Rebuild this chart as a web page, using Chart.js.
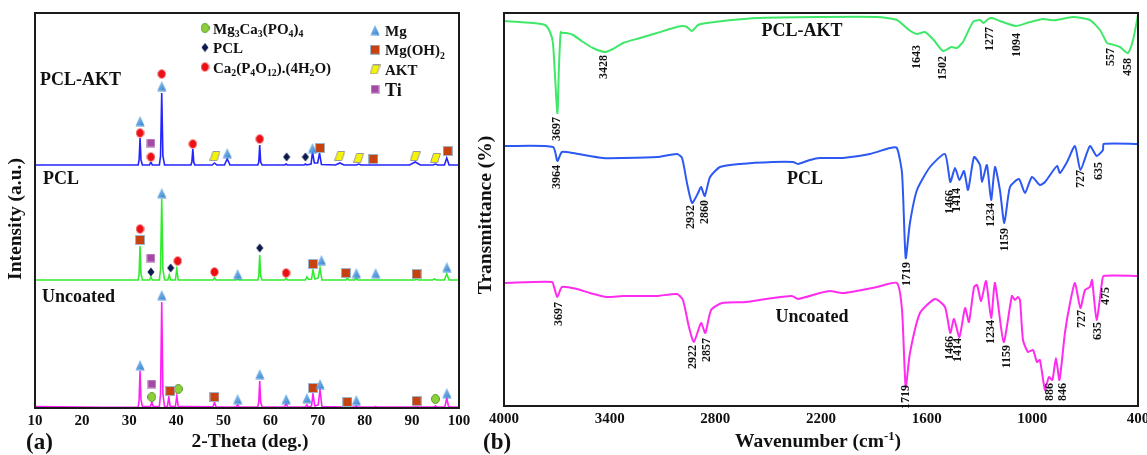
<!DOCTYPE html>
<html>
<head>
<meta charset="utf-8">
<script src="https://cdn.jsdelivr.net/npm/chart.js@4.4.1/dist/chart.umd.min.js"></script>
<style>
  body { margin: 0; background: #fff; }
  #wrapA { position: absolute; left: 0; top: 0; width: 480px; height: 455px; }
  #wrapB { position: absolute; left: 466px; top: 0; width: 681px; height: 455px; }
</style>
</head>
<body>
<div id="wrapA"><canvas id="xrd"></canvas></div>
<div id="wrapB"><canvas id="ftir"></canvas></div>
<script>
// ---------- (a) XRD : [2-theta, intensity above own baseline] ----------
const uncoatedXrd = [
  [10, 1.5], [15, 1.2], [20, 1], [25, 0.8], [30, 0.8], [31.9, 1],
  [32.1, 8], [32.3, 37], [32.5, 8], [32.8, 1.5],
  [34.5, 1.5], [34.8, 6], [35.1, 1.5],
  [36.4, 1.5], [36.65, 14], [36.9, 106], [37.15, 14], [37.5, 1.5],
  [38.1, 1.5], [38.4, 11], [38.7, 1.5],
  [39.8, 1.5], [40.1, 12], [40.4, 1.5],
  [42, 1.5], [47.8, 1.2], [48.1, 6], [48.4, 1.2],
  [52.7, 1], [53.0, 3], [53.3, 1],
  [57.3, 1], [57.5, 6], [57.7, 27], [57.9, 6], [58.2, 1],
  [63.0, 1], [63.3, 5], [63.6, 1],
  [67.4, 1], [67.7, 3], [68.0, 1], [68.7, 2], [69.0, 14], [69.4, 2], [70.1, 3], [70.5, 18], [70.9, 1.5],
  [76.0, 1], [76.3, 2], [76.6, 1], [77.9, 1], [78.2, 2], [78.5, 1],
  [82.0, 1], [82.3, 1.5], [82.6, 1], [90.7, 1], [91.0, 3], [91.3, 1],
  [94.7, 1], [95.0, 2], [95.3, 1], [97.0, 1], [97.4, 10], [97.8, 1], [100, 1]
];
const pclXrd = [
  [10, 1], [20, 1], [30, 1], [31.9, 1],
  [32.1, 7], [32.3, 35], [32.5, 7], [32.8, 1],
  [34.3, 1], [34.6, 4], [34.9, 1],
  [36.4, 1], [36.65, 12], [36.9, 82], [37.15, 12], [37.5, 1],
  [38.2, 1], [38.5, 6], [38.8, 1],
  [39.8, 1], [40.1, 12], [40.4, 1],
  [47.8, 1], [48.1, 3], [48.4, 1],
  [52.7, 1], [53.0, 2], [53.3, 1],
  [57.3, 1], [57.5, 5], [57.7, 26], [57.9, 5], [58.2, 1],
  [63.0, 1], [63.3, 3], [63.6, 1],
  [67.4, 1], [67.7, 4], [68.1, 1.5], [68.7, 2], [69.0, 11], [69.4, 2], [70.1, 3], [70.5, 13], [70.9, 1],
  [76.0, 1], [76.3, 3], [76.6, 1], [77.9, 1], [78.2, 3], [78.5, 1],
  [90.6, 1], [91.0, 2], [91.4, 1], [94.4, 1], [94.8, 2], [95.2, 1],
  [96.9, 1], [97.4, 7], [97.9, 1], [100, 1]
];
const pclAktXrd = [
  [10, 1], [20, 1], [30, 1], [31.9, 1],
  [32.1, 6], [32.3, 28], [32.5, 6], [32.8, 1],
  [34.3, 1], [34.6, 4], [34.9, 1],
  [36.4, 1], [36.65, 10], [36.9, 73], [37.15, 10], [37.5, 1],
  [43.1, 1], [43.3, 4], [43.5, 17], [43.7, 4], [43.9, 1],
  [47.6, 1], [48.1, 3], [48.6, 1],
  [50.2, 1], [50.8, 7], [51.4, 1],
  [57.3, 1], [57.5, 4], [57.7, 21], [57.9, 4], [58.2, 1],
  [63.0, 1], [63.3, 2], [63.6, 1], [67.1, 1], [67.4, 2], [67.7, 1],
  [68.6, 2], [68.9, 14], [69.3, 3], [70.0, 3], [70.4, 13], [70.8, 1.5],
  [73.8, 1], [74.7, 3], [75.6, 1], [78.2, 1], [78.7, 2], [79.2, 1],
  [89.5, 1], [90.7, 4], [91.8, 1], [94.5, 1], [95.0, 2], [95.5, 1],
  [96.9, 1], [97.4, 8], [97.9, 1], [100, 1]
];
const xrdNames = ['Uncoated', 'PCL', 'PCL-AKT'];
const xrdOffsets = [0, 127, 242];

// phase markers: [2-theta, height above baseline, trace index]
const mgMarks = [
  [32.3, 43, 0], [36.9, 113, 0], [53.0, 9, 0], [57.7, 34, 0], [63.3, 9, 0], [67.7, 10, 0], [70.5, 24, 0], [78.2, 8, 0], [97.4, 15, 0],
  [36.9, 88, 1], [53.0, 7, 1], [70.8, 21, 1], [78.2, 8, 1], [82.3, 8, 1], [97.4, 14, 1],
  [32.3, 45, 2], [36.9, 80, 2], [50.8, 13, 2], [68.9, 18, 2]
];
const mgohMarks = [
  [38.7, 17, 0], [48.1, 11, 0], [69.0, 20, 0], [76.3, 6, 0], [91.0, 7, 0],
  [32.3, 41, 1], [69.0, 17, 1], [76.0, 8, 1], [91.0, 7, 1],
  [70.5, 18, 2], [81.8, 7, 2], [97.6, 15, 2]
];
const tiMarks = [[34.8, 24, 0], [34.6, 23, 1], [34.6, 23, 2]];
const mgcapoMarks = [[34.8, 11, 0], [40.4, 19, 0], [95.0, 9, 0]];
const caMarks = [
  [32.3, 52, 1], [40.3, 20, 1], [48.1, 9, 1], [63.3, 8, 1],
  [32.3, 33, 2], [34.6, 9, 2], [36.9, 92, 2], [43.5, 22, 2], [57.7, 27, 2]
];
const pclMarks = [[34.6, 9, 1], [38.8, 13, 1], [57.7, 33, 1], [63.4, 9, 2], [67.4, 9, 2]];
const aktMarks = [[48.2, 10, 2], [74.7, 10, 2], [78.7, 8, 2], [90.7, 10, 2], [95.0, 8, 2]];

const xrdTicks = [10, 20, 30, 40, 50, 60, 70, 80, 90, 100];

// ---------- (b) FTIR : [wavenumber, transmittance a.u.] ----------
const pclAktFtir = [
  [4000, 385], [3835, 383], [3767, 381], [3739, 374], [3722, 363], [3697, 293], [3688, 339], [3678, 374],
  [3667, 373], [3644, 373], [3608, 371], [3551, 364], [3495, 358], [3428, 354], [3381, 357], [3324, 363],
  [3228, 368], [3131, 373], [3040, 378], [2989, 380], [2961, 379], [2933, 375], [2898, 381], [2847, 383],
  [2757, 385], [2563, 388], [2206, 389], [1882, 389], [1769, 386], [1700, 376], [1655, 372], [1610, 374],
  [1560, 366], [1507, 355], [1460, 359], [1428, 358], [1394, 364], [1337, 384], [1297, 386], [1277, 383],
  [1250, 387], [1229, 388], [1184, 385], [1094, 380], [1030, 383], [940, 387], [900, 386], [860, 386],
  [769, 389], [673, 386], [616, 376], [576, 363], [557, 362], [502, 359], [458, 353], [428, 366], [400, 391]
];
const pclFtir = [
  [4000, 260], [3722, 259], [3697, 245], [3671, 254], [3608, 253], [3438, 248], [3324, 248], [3131, 249],
  [3018, 252], [2989, 248], [2961, 223], [2932, 203], [2898, 213], [2881, 219], [2860, 210], [2830, 229],
  [2773, 239], [2660, 242], [2473, 244], [2359, 244], [2331, 242], [2263, 246], [2206, 248], [2075, 248],
  [1922, 252], [1808, 258], [1769, 258], [1740, 233], [1719, 148], [1695, 183], [1655, 216], [1581, 239],
  [1496, 252], [1466, 224], [1439, 238], [1414, 226], [1388, 235], [1365, 216], [1331, 249], [1297, 241],
  [1286, 224], [1258, 241], [1234, 206], [1212, 239], [1184, 216], [1159, 183], [1127, 219], [1076, 227],
  [1042, 213], [1002, 229], [957, 221], [928, 224], [860, 240], [843, 233], [803, 244], [758, 260],
  [727, 236], [673, 260], [635, 250], [599, 256], [595, 262], [400, 262]
];
const uncoatedFtir = [
  [4000, 123], [3727, 124], [3716, 119], [3697, 109], [3671, 119], [3585, 117], [3512, 113], [3415, 109],
  [3324, 110], [3131, 110], [3018, 112], [2984, 106], [2950, 79], [2922, 64], [2881, 83], [2857, 73],
  [2824, 96], [2762, 103], [2626, 104], [2473, 108], [2365, 110], [2331, 107], [2206, 113], [2149, 115],
  [2075, 113], [1882, 119], [1769, 123], [1740, 96], [1719, 19], [1695, 53], [1638, 93], [1553, 107],
  [1496, 99], [1466, 73], [1445, 87], [1414, 69], [1382, 98], [1360, 84], [1331, 119], [1314, 121],
  [1291, 105], [1263, 125], [1234, 88], [1212, 123], [1163, 64], [1116, 110], [1099, 106], [1082, 109],
  [1070, 106], [1053, 66], [1025, 54], [996, 56], [974, 44], [957, 46], [928, 16], [906, 29],
  [886, 26], [866, 48], [846, 26], [815, 73], [786, 103], [758, 123], [727, 98], [701, 116],
  [673, 119], [661, 126], [635, 86], [605, 123], [595, 130], [400, 130]
];
// peak labels: [text, wavenumber position, top of label]
const aktPeakLabels = [
  ['3697', 3699, 289], ['3428', 3432, 351], ['1643', 1655, 361], ['1502', 1507, 350],
  ['1277', 1240, 379], ['1094', 1087, 373], ['557', 553, 358], ['458', 457, 348]
];
const pclPeakLabels = [
  ['3964', 3699, 241], ['2932', 2938, 201], ['2860', 2859, 206], ['1719', 1712, 144],
  ['1466', 1468, 216], ['1414', 1428, 218], ['1234', 1235, 203], ['1159', 1155, 178],
  ['727', 724, 236], ['635', 622, 244]
];
const uncoatedPeakLabels = [
  ['3697', 3688, 104], ['2922', 2927, 61], ['2857', 2847, 68], ['1719', 1717, 21],
  ['1466', 1468, 70], ['1414', 1422, 68], ['1234', 1235, 86], ['1159', 1144, 61],
  ['886', 900, 23], ['846', 826, 23], ['727', 718, 96], ['635', 627, 84], ['475', 582, 119]
];
const ftirNames = [['PCL-AKT', 2308, 375], ['PCL', 2291, 227], ['Uncoated', 2251, 89]];
const ftirTicks = [4000, 3400, 2800, 2200, 1600, 1000, 400];

// ---------- helpers ----------
const SERIF = '"Liberation Serif", "Times New Roman", serif';
const bold = s => `bold ${s}px ${SERIF}`;

// draws text with _x / _{xx} subscripts and ^{..} superscripts
function drawRich(ctx, str, x, y, size, align) {
  const parts = [];
  let i = 0;
  while (i < str.length) {
    const c = str[i];
    if (c === '_' || c === '^') {
      let t;
      if (str[i + 1] === '{') {
        const j = str.indexOf('}', i);
        t = str.slice(i + 2, j);
        i = j + 1;
      } else {
        t = str[i + 1];
        i += 2;
      }
      parts.push({ t, k: c });
    } else {
      let j = i;
      while (j < str.length && str[j] !== '_' && str[j] !== '^') j++;
      parts.push({ t: str.slice(i, j), k: '' });
      i = j;
    }
  }
  let total = 0;
  parts.forEach(p => {
    ctx.font = bold(p.k ? size * 0.65 : size);
    p.w = ctx.measureText(p.t).width;
    total += p.w;
  });
  let cx = align === 'center' ? x - total / 2 : x;
  ctx.textAlign = 'left';
  ctx.textBaseline = 'alphabetic';
  parts.forEach(p => {
    ctx.font = bold(p.k ? size * 0.65 : size);
    const dy = p.k === '_' ? size * 0.22 : p.k === '^' ? -size * 0.38 : 0;
    ctx.fillText(p.t, cx, y + dy);
    cx += p.w;
  });
}

function marker(w, h, draw) {
  const c = document.createElement('canvas');
  c.width = w; c.height = h;
  draw(c.getContext('2d'));
  return c;
}
const markerImgs = {
  mg: marker(10, 11, g => {
    const gr = g.createLinearGradient(0, 0, 10, 11);
    gr.addColorStop(0, '#9fd0f5'); gr.addColorStop(1, '#2c7bcc');
    g.fillStyle = gr;
    g.beginPath(); g.moveTo(5, 0.5); g.lineTo(9.5, 10.5); g.lineTo(0.5, 10.5); g.closePath(); g.fill();
  }),
  mgoh: marker(10, 10, g => {
    g.fillStyle = '#c8420f'; g.fillRect(1, 1, 8, 8);
    g.strokeStyle = '#9fb4c9'; g.lineWidth = 1; g.strokeRect(0.5, 0.5, 9, 9);
  }),
  ti: marker(9, 9, g => {
    g.fillStyle = '#a44aa6'; g.fillRect(1, 1, 7, 7);
    g.strokeStyle = '#cfa6d0'; g.lineWidth = 1; g.strokeRect(0.5, 0.5, 8, 8);
  }),
  ca: marker(9, 10, g => {
    g.fillStyle = '#ec1015'; g.strokeStyle = '#f4a8a8'; g.lineWidth = 1;
    g.beginPath(); g.ellipse(4.5, 5, 4, 4.5, 0, 0, Math.PI * 2); g.fill(); g.stroke();
  }),
  mgcapo: marker(9, 10, g => {
    g.fillStyle = '#8bd03a'; g.strokeStyle = '#5d9a2e'; g.lineWidth = 1;
    g.beginPath(); g.ellipse(4.5, 5, 4, 4.5, 0, 0, Math.PI * 2); g.fill(); g.stroke();
  }),
  pcl: marker(8, 10, g => {
    g.fillStyle = '#0c1a4e';
    g.beginPath(); g.moveTo(4, 0.5); g.lineTo(7.5, 5); g.lineTo(4, 9.5); g.lineTo(0.5, 5); g.closePath(); g.fill();
  }),
  akt: marker(11, 10, g => {
    g.fillStyle = '#f6f400'; g.strokeStyle = '#9a9a9a'; g.lineWidth = 1;
    g.beginPath(); g.moveTo(3.5, 0.5); g.lineTo(10.5, 0.5); g.lineTo(7.5, 9.5); g.lineTo(0.5, 9.5); g.closePath();
    g.fill(); g.stroke();
  })
};

const legendLeft = [['Mg_3Ca_3(PO_4)_4', 'mgcapo'], ['PCL', 'pcl'], ['Ca_2(P_4O_{12}).(4H_2O)', 'ca']];
const legendRight = [['Mg', 'mg'], ['Mg(OH)_2', 'mgoh'], ['AKT', 'akt'], ['Ti', 'ti']];

const pts = (arr, off) => arr.map(([x, y]) => ({ x, y: y + off }));
const markPts = arr => arr.map(([x, h, t]) => ({ x, y: xrdOffsets[t] + h }));

// ---------- chart (a) ----------
const xrdColors = ['#ff1ff6', '#31ec2e', '#2424ff'];
const xrdSets = [uncoatedXrd, pclXrd, pclAktXrd].map((d, i) => ({
  label: xrdNames[i],
  data: pts(d, xrdOffsets[i]),
  showLine: true,
  borderColor: xrdColors[i],
  borderWidth: 1.6,
  pointRadius: 0,
  tension: 0,
  order: 1
}));
const markSets = [
  [mgMarks, 'mg'], [mgohMarks, 'mgoh'], [tiMarks, 'ti'], [mgcapoMarks, 'mgcapo'],
  [caMarks, 'ca'], [pclMarks, 'pcl'], [aktMarks, 'akt']
].map(([arr, key]) => ({
  label: key,
  data: markPts(arr),
  showLine: false,
  pointStyle: markerImgs[key],
  pointRadius: 5,
  order: 0
}));

const xrdDecor = {
  id: 'xrdDecor',
  afterDraw(chart) {
    const { ctx, chartArea: a, scales: { x, y } } = chart;
    ctx.save();
    ctx.lineWidth = 2;
    ctx.strokeStyle = '#1b1b1b';
    ctx.strokeRect(a.left, a.top, a.width, a.height);
    ctx.fillStyle = '#111';
    // trace names
    [['PCL-AKT', 11.06, 328], ['PCL', 11.7, 229], ['Uncoated', 11.5, 111]].forEach(([t, tx, ty]) => {
      ctx.font = bold(18);
      ctx.textAlign = 'left';
      ctx.textBaseline = 'middle';
      ctx.fillText(t, x.getPixelForValue(tx), y.getPixelForValue(ty));
    });
    // legend
    legendLeft.forEach(([t, k], i) => {
      const yy = 28 + i * 19.5;
      const img = markerImgs[k];
      ctx.drawImage(img, 205 - img.width / 2, yy - img.height / 2);
      drawRich(ctx, t, 213, yy + 5.5, 15);
    });
    legendRight.forEach(([t, k], i) => {
      const yy = 30 + i * 19.7;
      const img = markerImgs[k];
      ctx.drawImage(img, 375 - img.width / 2, yy - img.height / 2);
      drawRich(ctx, t, 385, yy + (k === 'ti' ? 6.5 : 5.5), k === 'ti' ? 18 : 15);
    });
    // axis titles
    drawRich(ctx, '2-Theta (deg.)', 250, 447, 19.5, 'center');
    ctx.font = bold(23);
    ctx.textAlign = 'left';
    ctx.textBaseline = 'alphabetic';
    ctx.fillText('(a)', 26, 449);
    ctx.translate(14, 219);
    ctx.rotate(-Math.PI / 2);
    drawRich(ctx, 'Intensity (a.u.)', 0, 7, 19.5, 'center');
    ctx.restore();
  }
};

new Chart(document.getElementById('xrd'), {
  type: 'scatter',
  data: { datasets: [...markSets, ...xrdSets] },
  options: {
    responsive: true,
    maintainAspectRatio: false,
    animation: false,
    events: [],
    layout: { padding: { left: 35, top: 13, right: 21, bottom: 0 } },
    plugins: { legend: { display: false }, tooltip: { enabled: false } },
    scales: {
      x: {
        type: 'linear', min: 10, max: 100,
        grid: { display: false, drawTicks: false },
        border: { display: false },
        afterBuildTicks: s => { s.ticks = xrdTicks.map(v => ({ value: v })); },
        afterFit: s => { s.height = 47; s.paddingLeft = 0; s.paddingRight = 0; },
        ticks: {
          color: '#111', font: { family: SERIF, size: 15, weight: 'bold' }, padding: 4, maxRotation: 0,
          callback: v => String(v)
        }
      },
      y: { display: false, min: 0, max: 395 }
    }
  },
  plugins: [xrdDecor]
});

// ---------- chart (b) ----------
const ftirColors = ['#40e86a', '#2d59f2', '#ff2cf0'];
const ftirSets = [pclAktFtir, pclFtir, uncoatedFtir].map((d, i) => ({
  label: ftirNames[i][0],
  data: pts(d, 0),
  showLine: true,
  borderColor: ftirColors[i],
  borderWidth: 2,
  pointRadius: 0,
  tension: 0.2
}));

const ftirDecor = {
  id: 'ftirDecor',
  afterDraw(chart) {
    const { ctx, chartArea: a, scales: { x, y } } = chart;
    ctx.save();
    ctx.lineWidth = 2;
    ctx.strokeStyle = '#1b1b1b';
    ctx.strokeRect(a.left, a.top, a.width, a.height);
    ctx.fillStyle = '#111';
    ftirNames.forEach(([t, wn, v]) => {
      ctx.font = bold(18);
      ctx.textAlign = 'center';
      ctx.textBaseline = 'middle';
      ctx.fillText(t, x.getPixelForValue(wn), y.getPixelForValue(v));
    });
    [...aktPeakLabels, ...pclPeakLabels, ...uncoatedPeakLabels].forEach(([t, wn, v]) => {
      ctx.save();
      ctx.translate(x.getPixelForValue(wn), y.getPixelForValue(v));
      ctx.rotate(-Math.PI / 2);
      ctx.font = bold(12);
      ctx.textAlign = 'right';
      ctx.textBaseline = 'middle';
      ctx.fillText(t, 0, 0);
      ctx.restore();
    });
    drawRich(ctx, 'Wavenumber (cm^{-1})', 352, 447, 19.5, 'center');
    ctx.font = bold(23);
    ctx.textAlign = 'left';
    ctx.textBaseline = 'alphabetic';
    ctx.fillText('(b)', 17, 449);
    ctx.translate(18, 215);
    ctx.rotate(-Math.PI / 2);
    drawRich(ctx, 'Transmittance (%)', 0, 7, 19.5, 'center');
    ctx.restore();
  }
};

new Chart(document.getElementById('ftir'), {
  type: 'scatter',
  data: { datasets: ftirSets },
  options: {
    responsive: true,
    maintainAspectRatio: false,
    animation: false,
    events: [],
    layout: { padding: { left: 38, top: 13, right: 9, bottom: 0 } },
    plugins: { legend: { display: false }, tooltip: { enabled: false } },
    scales: {
      x: {
        type: 'linear', min: 400, max: 4000, reverse: true,
        grid: { display: false, drawTicks: false },
        border: { display: false },
        afterBuildTicks: s => { s.ticks = ftirTicks.map(v => ({ value: v })); },
        afterFit: s => { s.height = 49; s.paddingLeft = 0; s.paddingRight = 0; },
        ticks: {
          color: '#111', font: { family: SERIF, size: 15, weight: 'bold' }, padding: 4, maxRotation: 0,
          callback: v => String(v)
        }
      },
      y: { display: false, min: 0, max: 393 }
    }
  },
  plugins: [ftirDecor]
});
</script>
</body>
</html>
